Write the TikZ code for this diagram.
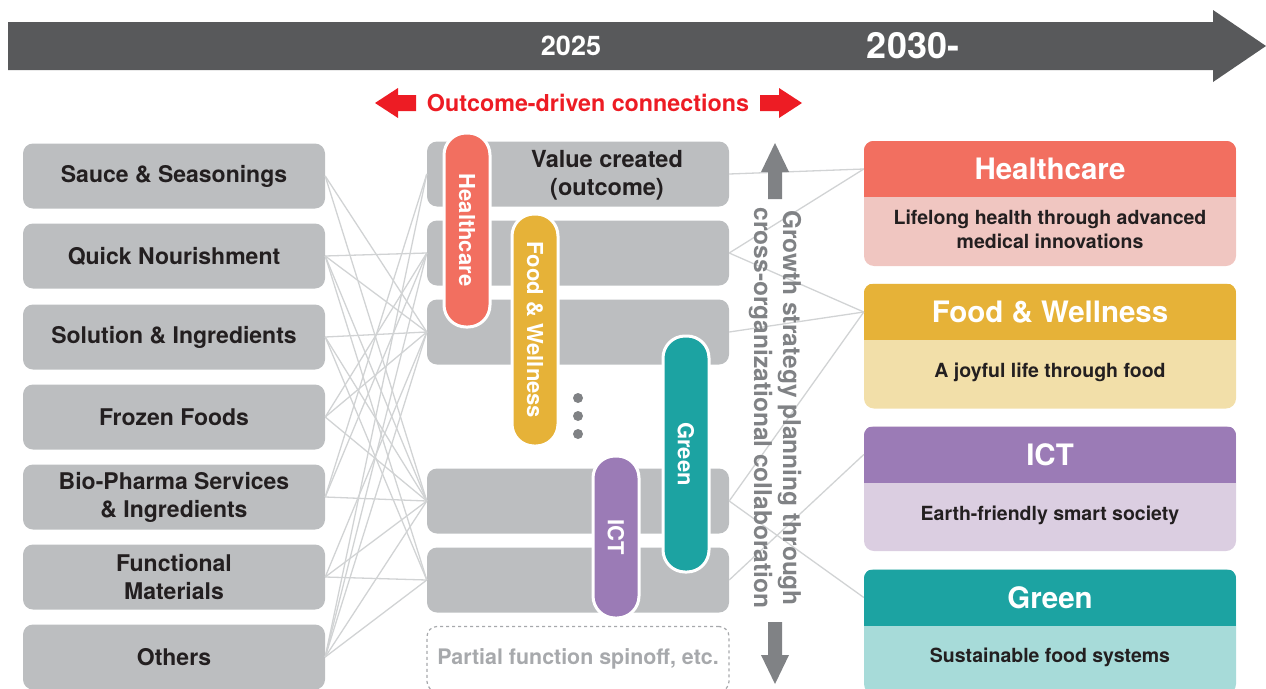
\documentclass[tikz,border=0pt]{standalone}
\usepackage{fontspec}
\setmainfont{TeX Gyre Heros}
\definecolor{band}{HTML}{58595B}
\definecolor{boxgray}{HTML}{BCBEC0}
\definecolor{linkgray}{HTML}{D1D3D4}
\definecolor{midgray}{HTML}{808285}
\definecolor{softgray}{HTML}{A7A9AC}
\definecolor{ink}{HTML}{231F20}
\definecolor{signred}{HTML}{ED1C24}
\definecolor{hcdark}{HTML}{F26F60}
\definecolor{hclight}{HTML}{F0C6C1}
\definecolor{fwdark}{HTML}{E6B238}
\definecolor{fwlight}{HTML}{F2DFA9}
\definecolor{ictdark}{HTML}{9B7BB6}
\definecolor{ictlight}{HTML}{DBCEE1}
\definecolor{grdark}{HTML}{1CA3A2}
\definecolor{grlight}{HTML}{A7DBD9}

\begin{document}
\begin{tikzpicture}[x=1pt,y=-1pt,
  biz/.style={fill=boxgray,rounded corners=10pt,minimum width=302pt,minimum height=65pt,
    align=center,text=ink,font=\bfseries\fontsize{23}{28}\selectfont},
  pill/.style={draw=white,line width=3pt,rounded corners=22pt,minimum height=46pt,
    rotate=-90,text=white,font=\bfseries\fontsize{22}{24}\selectfont},
  body/.style={rounded corners=10pt,minimum width=372pt,minimum height=125pt},
  head/.style={minimum width=372pt,minimum height=56pt,text=white,
    font=\bfseries\fontsize{29.5}{32}\selectfont},
  sub/.style={align=center,text=ink,font=\bfseries\fontsize{19.5}{24}\selectfont},
  link/.style={linkgray,line width=1.3pt}]
  \useasboundingbox (0,0) rectangle (1266,688);

  % timeline
  \fill[band] (8,22) -- (1213,22) -- (1213,10) -- (1266,46) -- (1213,82) -- (1213,70) -- (8,70) -- cycle;
  \node[text=white,font=\bfseries\fontsize{27}{30}\selectfont] (y2025) at (571,46) {2025};
  \node[text=white,font=\bfseries\fontsize{36}{40}\selectfont] (y2030) at (913,46) {2030-};

  % outcome-driven connections
  \fill[signred] (375,103) -- (398,88) -- (398,95) -- (416,95) -- (416,111) -- (398,111) -- (398,118) -- cycle;
  \fill[signred] (802,103) -- (779,88) -- (779,95) -- (760,95) -- (760,111) -- (779,111) -- (779,118) -- cycle;
  \node[text=signred,font=\bfseries\fontsize{23.3}{26}\selectfont] (outc) at (588,103) {Outcome-driven connections};

  % businesses
  \node[biz] (sauce) at (174,176) {Sauce \& Seasonings};
  \node[biz] (quick) at (174,256) {Quick Nourishment};
  \node[biz] (solut) at (174,337) {Solution \& Ingredients};
  \node[biz] (frozen) at (174,417) {Frozen Foods};
  \node[biz] (biopharma) at (174,497) {Bio-Pharma Services\\\& Ingredients};
  \node[biz] (funcmat) at (174,577) {Functional\\Materials};
  \node[biz] (others) at (174,657) {Others};

  % value created
  \node[biz] (valA) at (578,174) {};
  \node[biz] (valB) at (578,253) {};
  \node[biz] (valC) at (578,332) {};
  \node[biz] (valD) at (578,501) {};
  \node[biz] (valE) at (578,580) {};
  \node[biz,fill=none,draw=softgray,line width=1.2pt,dashed,text=softgray,
    font=\bfseries\fontsize{21.4}{24}\selectfont] (spinoff) at (578,659) {Partial function spinoff, etc.};
  \node[align=center,text=ink,font=\bfseries\fontsize{23.5}{28}\selectfont] (valtxt) at (607,175) {Value created\\(outcome)};

  % business to value links
  \foreach \a/\b in {sauce/valC,sauce/valD,
      quick/valB,quick/valC,quick/valD,quick/valE,
      solut/valC,solut/valD,solut/valE,
      frozen/valB,frozen/valC,frozen/valD,
      biopharma/valA,biopharma/valB,biopharma/valD,
      funcmat/valC,funcmat/valD,funcmat/valE,
      others/valA,others/valB,others/valC,others/valD,others/valE}
    \draw[link] (\a.east) -- (\b.west);

  % growth areas
  \node[body,fill=hclight] (hcbody) at (1050,203.5) {};
  \begin{scope}
    \clip[rounded corners=10pt] (hcbody.south west) rectangle (hcbody.north east);
    \node[head,fill=hcdark] (hchead) at (1050,169) {Healthcare};
  \end{scope}
  \node[sub] (hcsub) at (1050,229) {Lifelong health through advanced\\medical innovations};

  \node[body,fill=fwlight] (fwbody) at (1050,346) {};
  \begin{scope}
    \clip[rounded corners=10pt] (fwbody.south west) rectangle (fwbody.north east);
    \node[head,fill=fwdark] (fwhead) at (1050,312) {Food \& Wellness};
  \end{scope}
  \node[sub] (fwsub) at (1050,372) {A joyful life through food};

  \node[body,fill=ictlight] (ictbody) at (1050,488.5) {};
  \begin{scope}
    \clip[rounded corners=10pt] (ictbody.south west) rectangle (ictbody.north east);
    \node[head,fill=ictdark] (icthead) at (1050,454.5) {ICT};
  \end{scope}
  \node[sub] (ictsub) at (1050,515) {Earth-friendly smart society};

  \node[body,fill=grlight] (grbody) at (1050,631.5) {};
  \begin{scope}
    \clip[rounded corners=10pt] (grbody.south west) rectangle (grbody.north east);
    \node[head,fill=grdark] (grhead) at (1050,597.5) {Green};
  \end{scope}
  \node[sub] (grsub) at (1050,657) {Sustainable food systems};

  % value to growth area links
  \draw[link] (valA.east) -- (hchead.west);
  \draw[link] (valB.east) -- (hchead.west);
  \draw[link] (valB.east) -- (fwhead.west);
  \draw[link] (valC.east) -- (fwhead.west);
  \draw[link] (valD.east) -- (fwhead.west);
  \draw[link] (valD.east) -- (grhead.west);
  \draw[link] (valE.east) -- (icthead.west);

  % area pills
  \node[pill,fill=hcdark,minimum width=194pt] (hcpill) at (467,230) {Healthcare};
  \node[pill,fill=fwdark,minimum width=232pt] (fwpill) at (535,330) {Food \& Wellness};
  \node[pill,fill=grdark,minimum width=236pt] (grpill) at (686,454) {Green};
  \node[pill,fill=ictdark,minimum width=162pt] (ictpill) at (616,537) {ICT};
  \foreach \y in {398,416,434}
    \fill[midgray] (578,\y) circle[radius=5pt];

  % growth strategy
  \fill[midgray] (775,143) -- (789,172) -- (782,172) -- (782,199) -- (768,199) -- (768,172) -- (761,172) -- cycle;
  \fill[midgray] (775,684) -- (789,655) -- (782,655) -- (782,622) -- (768,622) -- (768,655) -- (761,655) -- cycle;
  \node[rotate=-90,align=center,text=midgray,font=\bfseries\fontsize{24.5}{29}\selectfont] (growth) at (775,408)
    {Growth strategy planning through\\cross-organizational collaboration};
\end{tikzpicture}
\end{document}
